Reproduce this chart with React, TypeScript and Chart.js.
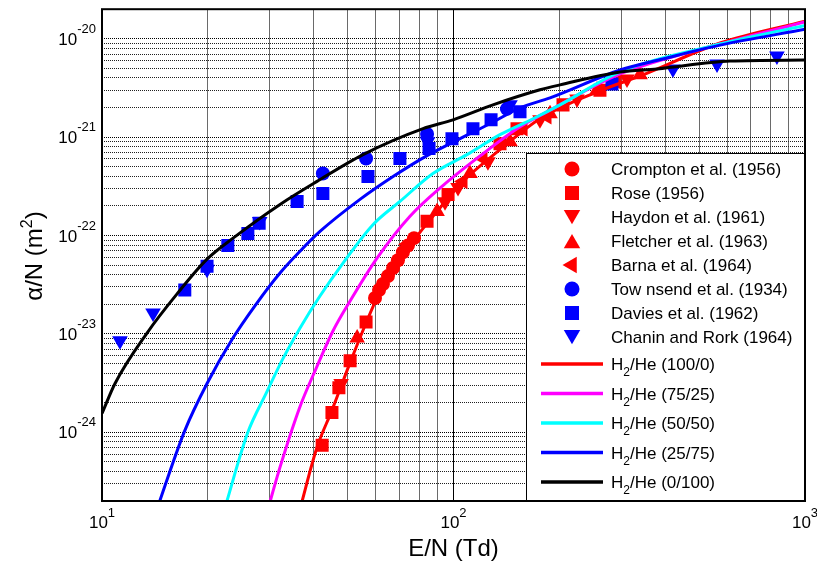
import React, { useEffect, useRef } from "react";
import { Chart, registerables } from "chart.js";

Chart.register(...registerables);

// ---------- axes ----------
const X_MIN = 10;
const X_MAX = 1000;
const Y_MIN = 2e-25;
const Y_MAX = 2e-20;
const X_TICK_EXPONENTS = [1, 2, 3];
const Y_TICK_EXPONENTS = [-24, -23, -22, -21, -20];
const X_TITLE = "E/N (Td)";
const Y_TITLE_MAIN = "α/N (m";
const Y_TITLE_SUP = "2";
const Y_TITLE_END = ")";

// ---------- model curves H2/He ----------
const CURVE_LABELS = ["(100/0)", "(75/25)", "(50/50)", "(25/75)", "(0/100)"];
const CURVE_COLORS = ["#ff0000", "#ff00ff", "#00ffff", "#0000ff", "#000000"];

const H2_100_E = [36.4, 40.9, 45.1, 50.8, 56.4, 60.6, 67.3, 78.7, 89.8, 106.4, 135.6, 176.2, 261.1, 346, 573, 1000];
const H2_100_A = [1.55e-25, 7.03e-25, 1.67e-24, 5.1e-24, 1.29e-23, 2.32e-23, 4.55e-23, 9.84e-23, 1.76e-22, 3.55e-22, 7.46e-22, 1.54e-21, 2.96e-21, 4.3e-21, 9.06e-21, 1.51e-20];

const H2_75_E = [29.5, 32.1, 36.6, 40.4, 45.4, 50.8, 60.6, 75.2, 93.3, 121.3, 151.6, 184.5, 297.7, 573, 1000];
const H2_75_A = [1.55e-25, 4.42e-25, 1.83e-24, 4.23e-24, 1.07e-23, 2.16e-23, 5.89e-23, 1.57e-22, 3.22e-22, 6.79e-22, 1.22e-21, 1.81e-21, 4.4e-21, 8.85e-21, 1.48e-20];

const H2_50_E = [22.2, 26.0, 29.3, 32.5, 36.6, 41.7, 48.5, 59.0, 70.4, 87.4, 109.2, 135.6, 168.4, 200.9, 297.7, 573, 1000];
const H2_50_A = [1.55e-25, 1.0e-24, 2.48e-24, 5.35e-24, 1.15e-23, 2.43e-23, 5.25e-23, 1.29e-22, 2.22e-22, 4.27e-22, 6.64e-22, 1.06e-21, 1.54e-21, 2.13e-21, 4.6e-21, 8.85e-21, 1.37e-20];

const H2_25_E = [14.24, 17.2, 19.9, 23.6, 27.2, 32.1, 36.6, 41.7, 54.2, 67.3, 84.1, 104.4, 127.0, 154.6, 188.2, 297.7, 394, 573, 1000];
const H2_25_A = [1.55e-25, 1.04e-24, 3.13e-24, 9.12e-24, 1.92e-23, 4.16e-23, 6.93e-23, 1.1e-22, 2.33e-22, 3.98e-22, 6.5e-22, 9.66e-22, 1.37e-21, 1.99e-21, 2.51e-21, 4.82e-21, 6.24e-21, 8.63e-21, 1.25e-20];

const H2_0_E = [10, 10.89, 13.43, 16.35, 19.9, 23.6, 32.1, 40.9, 55.3, 81.9, 99.7, 129.5, 176.2, 200.9, 297.7, 379, 612, 1000];
const H2_0_A = [1.55e-24, 3.13e-24, 1.02e-23, 2.55e-23, 5.75e-23, 9.4e-23, 2.07e-22, 3.55e-22, 6.65e-22, 1.22e-21, 1.5e-21, 2.13e-21, 3.03e-21, 3.4e-21, 4.6e-21, 4.93e-21, 5.94e-21, 6.08e-21];

// ---------- measurements ----------
const CROMPTON_E = [59.8, 61.4, 63.0, 65.1, 67.3, 69.5, 71.8, 74.2, 77.2];
const CROMPTON_A = [2.32e-23, 2.79e-23, 3.21e-23, 3.87e-23, 4.67e-23, 5.61e-23, 6.76e-23, 7.94e-23, 9.4e-23];

const ROSE_E = [42.3, 45.1, 47.2, 50.8, 56.4, 84.1, 96.5, 135.6, 151.6, 204.9, 261.0];
const ROSE_A = [7.36e-25, 1.59e-24, 2.84e-24, 5.33e-24, 1.32e-23, 1.4e-22, 2.62e-22, 8.59e-22, 1.22e-21, 2.13e-21, 3.0e-21];

const HAYDON_E = [47.9, 94.6, 103, 125.3, 176.2, 224.6, 311.6];
const HAYDON_A = [3.13e-24, 2.21e-22, 3.07e-22, 5.63e-22, 1.5e-21, 2.45e-21, 3.91e-21];

const FLETCHER_E = [53.2, 89.8, 111.4, 144.8, 188.2, 256, 339.4];
const FLETCHER_A = [9.1e-24, 1.76e-22, 4.27e-22, 9.0e-22, 1.73e-21, 3.02e-21, 4.3e-21];

const BARNA_E = [73.8, 106.4, 121.3, 157.7, 184.5, 291.8];
const BARNA_A = [8.17e-23, 3.55e-22, 6.07e-22, 1.22e-21, 1.61e-21, 3.65e-21];

const TOWNSEND_E = [42.5, 56.4, 84.1, 141.9];
const TOWNSEND_A = [4.27e-22, 6.07e-22, 1.08e-21, 1.94e-21];

const DAVIES_E = [17.2, 19.9, 22.8, 26.0, 28.0, 35.9, 42.5, 57.1, 70.4, 85.2, 99.0, 113.6, 127.9, 154.6, 282.4];
const DAVIES_A = [2.79e-23, 4.88e-23, 7.94e-23, 1.05e-22, 1.33e-22, 2.22e-22, 2.68e-22, 3.98e-22, 6.07e-22, 7.66e-22, 9.66e-22, 1.22e-21, 1.5e-21, 1.81e-21, 3.48e-21];

const CHANIN_E = [11.25, 13.97, 19.9, 28.1, 84.4, 144.8, 421, 562, 832];
const CHANIN_A = [8.5e-24, 1.63e-23, 4.55e-23, 1.39e-22, 8.97e-22, 2.13e-21, 4.93e-21, 5.55e-21, 6.68e-21];

type MarkerSpec = { label: string; color: string; style: string; rot: number; r: number; legR: number; E: number[]; A: number[] };

const MARKERS: MarkerSpec[] = [
  { label: "Crompton et al. (1956)", color: "#ff0000", style: "circle", rot: 0, r: 7, legR: 7.5, E: CROMPTON_E, A: CROMPTON_A },
  { label: "Rose (1956)", color: "#ff0000", style: "rect", rot: 0, r: 9.2, legR: 9.9, E: ROSE_E, A: ROSE_A },
  { label: "Haydon et al. (1961)", color: "#ff0000", style: "triangle", rot: 180, r: 9, legR: 9.5, E: HAYDON_E, A: HAYDON_A },
  { label: "Fletcher et al. (1963)", color: "#ff0000", style: "triangle", rot: 0, r: 9, legR: 9.5, E: FLETCHER_E, A: FLETCHER_A },
  { label: "Barna et al. (1964)", color: "#ff0000", style: "triangle", rot: 270, r: 9, legR: 9.5, E: BARNA_E, A: BARNA_A },
  { label: "Tow nsend et al. (1934)", color: "#0000ff", style: "circle", rot: 0, r: 7, legR: 7.5, E: TOWNSEND_E, A: TOWNSEND_A },
  { label: "Davies et al. (1962)", color: "#0000ff", style: "rect", rot: 0, r: 9.2, legR: 9.9, E: DAVIES_E, A: DAVIES_A },
  { label: "Chanin and Rork (1964)", color: "#0000ff", style: "triangle", rot: 180, r: 9, legR: 9.5, E: CHANIN_E, A: CHANIN_A },
];

const CURVES_E = [H2_100_E, H2_75_E, H2_50_E, H2_25_E, H2_0_E];
const CURVES_A = [H2_100_A, H2_75_A, H2_50_A, H2_25_A, H2_0_A];

const FONT = "Arial, 'Liberation Sans', Helvetica, sans-serif";

const zip = (xs: number[], ys: number[]) => xs.map((x, i) => ({ x, y: ys[i] }));

function gridValues(min: number, max: number): number[] {
  const out: number[] = [];
  const e0 = Math.floor(Math.log10(min));
  const e1 = Math.ceil(Math.log10(max));
  for (let e = e0; e <= e1; e++) {
    for (let m = 1; m <= 9; m++) {
      const v = m * Math.pow(10, e);
      if (v >= min * 0.999 && v <= max * 1.001) out.push(v);
    }
  }
  return out;
}

const isDecade = (v: number) => Math.abs(Math.log10(v) - Math.round(Math.log10(v))) < 1e-6;

function drawMarker(ctx: CanvasRenderingContext2D, style: string, x: number, y: number, r: number, rotDeg: number) {
  ctx.beginPath();
  if (style === "circle") {
    ctx.arc(x, y, r, 0, Math.PI * 2);
  } else if (style === "rect") {
    const s = r * Math.SQRT1_2;
    ctx.rect(x - s, y - s, 2 * s, 2 * s);
  } else {
    let rad = (rotDeg * Math.PI) / 180;
    ctx.moveTo(x + Math.sin(rad) * r, y - Math.cos(rad) * r);
    rad += (2 * Math.PI) / 3;
    ctx.lineTo(x + Math.sin(rad) * r, y - Math.cos(rad) * r);
    rad += (2 * Math.PI) / 3;
    ctx.lineTo(x + Math.sin(rad) * r, y - Math.cos(rad) * r);
    ctx.closePath();
  }
  ctx.fill();
}

const overlayPlugin = {
  id: "overlay",
  afterDatasetsDraw(chart: any) {
    const ctx: CanvasRenderingContext2D = chart.ctx;
    const ca = chart.chartArea;
    ctx.save();
    // legend box
    const LX = 526;
    const LY = 153;
    ctx.fillStyle = "#ffffff";
    ctx.fillRect(LX, LY, ca.right - LX, ca.bottom - LY);
    ctx.strokeStyle = "#000000";
    ctx.lineWidth = 1;
    ctx.strokeRect(LX + 0.5, LY + 0.5, ca.right - LX, ca.bottom - LY);

    ctx.font = `17px ${FONT}`;
    ctx.textBaseline = "alphabetic";
    ctx.textAlign = "left";
    MARKERS.forEach((m, i) => {
      const y = 169 + i * 24;
      ctx.fillStyle = m.color;
      const off = m.style === "triangle" ? (m.rot === 180 ? -m.legR * 0.25 : m.rot === 0 ? m.legR * 0.25 : 0) : 0;
      drawMarker(ctx, m.style, 572, y + off, m.legR, m.rot);
      ctx.fillStyle = "#000000";
      ctx.fillText(m.label, 611, y + 6);
    });
    CURVE_LABELS.forEach((lab, i) => {
      const y = 364 + i * 29.5;
      ctx.strokeStyle = CURVE_COLORS[i];
      ctx.lineWidth = 3.5;
      ctx.beginPath();
      ctx.moveTo(541, y);
      ctx.lineTo(603, y);
      ctx.stroke();
      ctx.fillStyle = "#000000";
      ctx.font = `17px ${FONT}`;
      let x = 611;
      ctx.fillText("H", x, y + 6);
      x += ctx.measureText("H").width;
      ctx.font = `12px ${FONT}`;
      ctx.fillText("2", x, y + 12);
      x += ctx.measureText("2").width;
      ctx.font = `17px ${FONT}`;
      ctx.fillText("/He " + lab, x, y + 6);
    });

    // axes frame
    ctx.strokeStyle = "#000000";
    ctx.lineWidth = 2;
    ctx.strokeRect(ca.left, ca.top, ca.right - ca.left, ca.bottom - ca.top);
    ctx.restore();
  },
  afterDraw(chart: any) {
    const ctx: CanvasRenderingContext2D = chart.ctx;
    const xs = chart.scales.x;
    const ys = chart.scales.y;
    ctx.save();
    ctx.fillStyle = "#000000";
    ctx.textBaseline = "alphabetic";
    ctx.textAlign = "left";
    // y tick labels
    Y_TICK_EXPONENTS.forEach((e) => {
      const y = ys.getPixelForValue(Math.pow(10, e));
      const sup = String(e);
      ctx.font = `13px ${FONT}`;
      const ws = ctx.measureText(sup).width;
      ctx.font = `17px ${FONT}`;
      const wm = ctx.measureText("10").width;
      const right = 96;
      ctx.fillText("10", right - ws - wm, y + 6);
      ctx.font = `13px ${FONT}`;
      ctx.fillText(sup, right - ws, y - 6);
    });
    // x tick labels
    X_TICK_EXPONENTS.forEach((e) => {
      const x = xs.getPixelForValue(Math.pow(10, e));
      const sup = String(e);
      ctx.font = `13px ${FONT}`;
      const ws = ctx.measureText(sup).width;
      ctx.font = `17px ${FONT}`;
      const wm = ctx.measureText("10").width;
      const left = x - (wm + ws) / 2;
      ctx.fillText("10", left, 528);
      ctx.font = `13px ${FONT}`;
      ctx.fillText(sup, left + wm, 517);
    });
    // x title
    ctx.font = `24px ${FONT}`;
    ctx.textAlign = "center";
    ctx.fillText(X_TITLE, (xs.left + xs.right) / 2, 556);
    // y title
    ctx.save();
    ctx.translate(42, 256);
    ctx.rotate(-Math.PI / 2);
    ctx.textAlign = "left";
    ctx.font = `24px ${FONT}`;
    const w1 = ctx.measureText(Y_TITLE_MAIN).width;
    const w3 = ctx.measureText(Y_TITLE_END).width;
    ctx.font = `16px ${FONT}`;
    const w2 = ctx.measureText(Y_TITLE_SUP).width;
    let x0 = -(w1 + w2 + w3) / 2;
    ctx.font = `24px ${FONT}`;
    ctx.fillText(Y_TITLE_MAIN, x0, 0);
    x0 += w1;
    ctx.font = `16px ${FONT}`;
    ctx.fillText(Y_TITLE_SUP, x0, -10);
    x0 += w2;
    ctx.font = `24px ${FONT}`;
    ctx.fillText(Y_TITLE_END, x0, 0);
    ctx.restore();
    ctx.restore();
  },
};

export default function App() {
  const ref = useRef<HTMLCanvasElement>(null);
  useEffect(() => {
    const canvas = ref.current;
    if (!canvas) return;
    const n = MARKERS.length + CURVE_LABELS.length;
    const datasets: any[] = [];
    MARKERS.forEach((m, i) => {
      datasets.push({
        label: m.label,
        data: zip(m.E, m.A),
        showLine: false,
        pointStyle: m.style,
        pointRadius: m.r,
        pointRotation: m.rot,
        pointBackgroundColor: m.color,
        pointBorderWidth: 0,
        backgroundColor: m.color,
        borderColor: m.color,
        order: n - i,
        clip: 0,
      });
    });
    CURVE_LABELS.forEach((lab, i) => {
      datasets.push({
        label: "H2/He " + lab,
        data: zip(CURVES_E[i], CURVES_A[i]),
        showLine: true,
        pointRadius: 0,
        borderColor: CURVE_COLORS[i],
        backgroundColor: CURVE_COLORS[i],
        borderWidth: 3,
        fill: false,
        cubicInterpolationMode: "monotone",
        order: n - MARKERS.length - i,
        clip: 0,
      });
    });
    const xGrid = gridValues(X_MIN, X_MAX);
    const yGrid = gridValues(Y_MIN, Y_MAX);
    const chart = new Chart(canvas, {
      type: "scatter",
      data: { datasets },
      options: {
        responsive: false,
        animation: false,
        events: [],
        layout: { padding: { top: 7, right: 12, left: 0, bottom: 0 } },
        plugins: { legend: { display: false }, tooltip: { enabled: false }, title: { display: false } },
        scales: {
          x: {
            type: "logarithmic",
            min: X_MIN,
            max: X_MAX,
            afterBuildTicks: (s: any) => {
              s.ticks = xGrid.map((v) => ({ value: v }));
            },
            afterFit: (s: any) => {
              s.height = 64;
            },
            ticks: { display: false, callback: () => "" },
            grid: {
              drawTicks: false,
              lineWidth: 1,
              color: (c: any) => (c.tick && isDecade(c.tick.value) ? "#000000" : "#6a6a6a"),
            },
            border: { display: false },
          },
          y: {
            type: "logarithmic",
            min: Y_MIN,
            max: Y_MAX,
            afterBuildTicks: (s: any) => {
              s.ticks = yGrid.map((v) => ({ value: v }));
            },
            afterFit: (s: any) => {
              s.width = 102;
            },
            ticks: { display: false, callback: () => "" },
            grid: {
              drawTicks: false,
              lineWidth: 1,
              color: (c: any) => (c.tick && isDecade(c.tick.value) ? "#000000" : "#202020"),
            },
            border: { display: false, dash: [1, 1] },
          },
        },
      } as any,
      plugins: [overlayPlugin],
    } as any);
    return () => chart.destroy();
  }, []);
  return (
    <div style={{ position: "fixed", left: 0, top: 0, width: 817, height: 565, background: "#ffffff" }}>
      <canvas ref={ref} width={817} height={565} style={{ display: "block", width: 817, height: 565 }} />
    </div>
  );
}
